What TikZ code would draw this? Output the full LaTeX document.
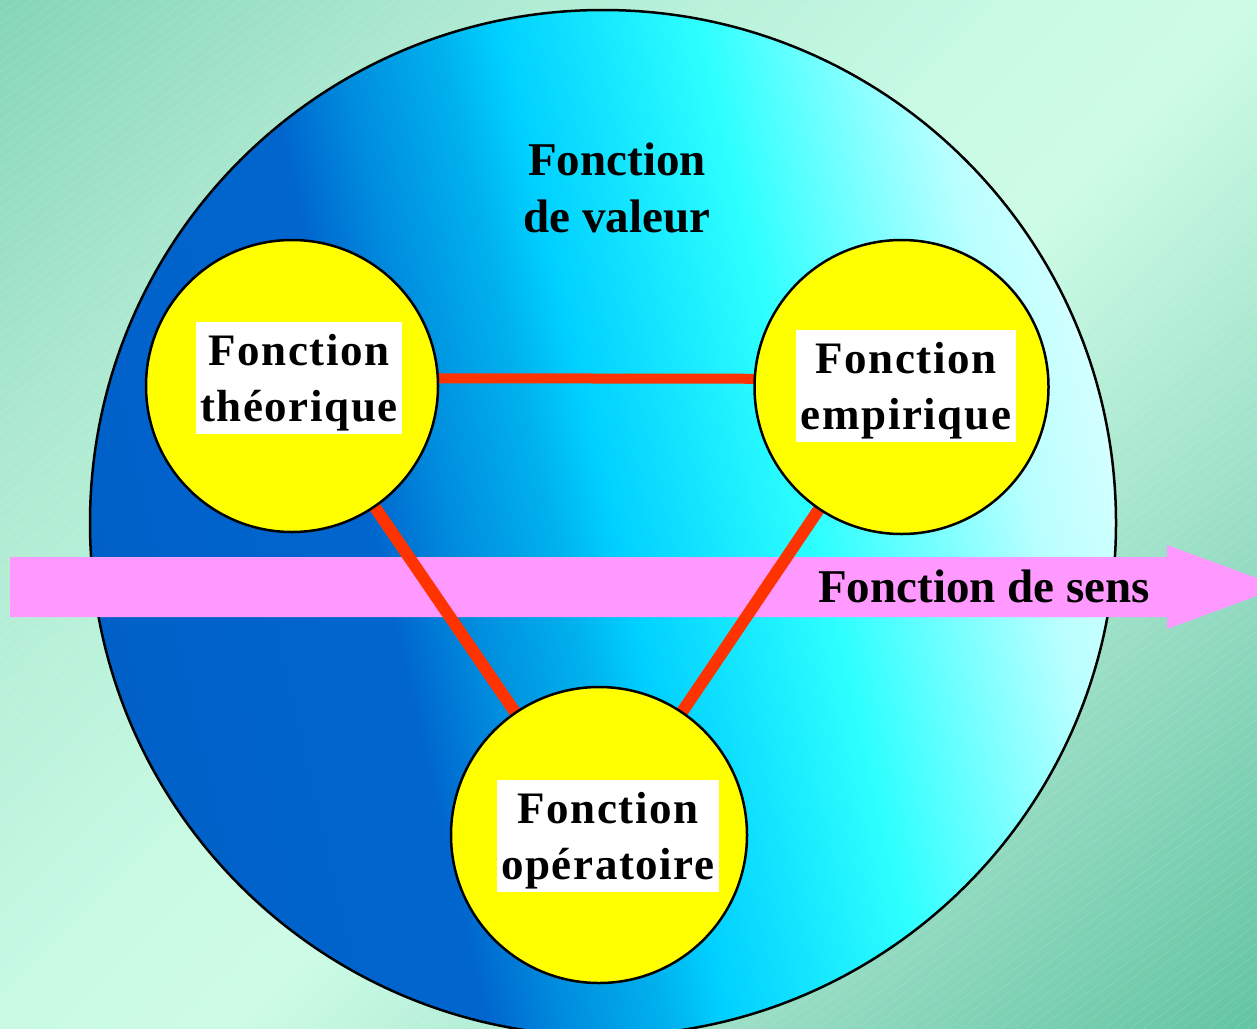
\documentclass[tikz,border=0pt]{standalone}
\usepackage{fontspec}
\setmainfont{Liberation Serif}
\newfontfamily\lblfont[LetterSpace=3.5]{Liberation Serif}
\definecolor{cdark}{RGB}{0,96,200}
\definecolor{cdarkb}{RGB}{0,102,206}
\definecolor{cmida}{RGB}{0,140,222}
\definecolor{cmid}{RGB}{0,178,238}
\definecolor{clight}{RGB}{0,208,255}
\definecolor{ccyan}{RGB}{45,255,255}
\definecolor{cpale}{RGB}{185,255,255}
\definecolor{cpaleb}{RGB}{212,255,255}
\definecolor{bga}{RGB}{132,213,183}
\definecolor{bgb}{RGB}{172,233,208}
\definecolor{bgc}{RGB}{200,250,228}
\definecolor{bgd}{RGB}{205,252,230}
\definecolor{bge}{RGB}{150,220,195}
\definecolor{bgf}{RGB}{98,196,162}
\definecolor{arrowpink}{RGB}{255,153,255}
\definecolor{linered}{RGB}{255,51,0}
\definecolor{ballyellow}{RGB}{255,255,0}
\pgfdeclarehorizontalshading{bigsh}{100bp}{color(0bp)=(cdark); color(25bp)=(cdark); color(39bp)=(cdarkb); color(42.7bp)=(cmida); color(47.6bp)=(cmid); color(50.4bp)=(clight); color(60bp)=(ccyan); color(70.5bp)=(cpale); color(75bp)=(cpaleb); color(100bp)=(cpaleb)}
\pgfdeclarehorizontalshading{bgsh}{100bp}{color(0bp)=(bga); color(25bp)=(bga); color(34.9bp)=(bgb); color(47.5bp)=(bgc); color(52.5bp)=(bgd); color(64.3bp)=(bge); color(75bp)=(bgf); color(100bp)=(bgf)}
\pgfdeclarelayer{bg}
\pgfdeclarelayer{lines}
\pgfsetlayers{bg,lines,main}
\tikzset{
  yc/.style={circle, draw=black, line width=2.5, fill=ballyellow, inner sep=0},
  lbl/.style={rectangle, fill=white, inner sep=0, minimum height=112, align=center,
    font={\lblfont\bfseries\fontsize{45}{56}\selectfont}},
  titletext/.style={inner sep=0, font={\bfseries\fontsize{47}{57}\selectfont}},
  redline/.style={draw=linered, line width=10},
  redlinediag/.style={draw=linered, line width=12},
  hatch/.style={draw=white, line width=0.5, opacity=0.16},
  bigcircle/.style={circle, draw=black, line width=2.5, inner sep=0, minimum size=1026},
}
\begin{document}
\begin{tikzpicture}[x=1pt,y=-1pt]
\useasboundingbox (0,0) rectangle (1257,1028);
\clip (0,0) rectangle (1257,1028);
% circles
\node[yc, minimum size=292] (T) at (292,386) {};
\node[yc, minimum size=294] (E) at (901.5,387) {};
\node[yc, minimum size=296] (O) at (599,835) {};
\node[lbl, minimum width=206] (Tl) at (299,378) {\rule{0pt}{40pt}Fonction\\théorique};
\node[lbl, minimum width=220] (El) at (906,386) {\rule{0pt}{40pt}Fonction\\empirique};
\node[lbl, minimum width=222] (Ol) at (608,836) {\rule{0pt}{40pt}Fonction\\opératoire};
% title texts
\node[titletext, anchor=base] (v1) at (617,175) {Fonction};
\node[titletext, anchor=base] (v2) at (617,232) {de valeur};
\node[titletext, anchor=base] (s) at (984,602) {Fonction de sens};
% red lines
\begin{pgfonlayer}{lines}
\draw[redline] ([yshift=8pt]T.center) -- ([yshift=8pt]E.center);
\draw[redlinediag] (T.center) -- (O.center);
\draw[redlinediag] (E.center) -- (O.center);
\end{pgfonlayer}
% background
\begin{pgfonlayer}{bg}
\shade[shading=bgsh, transform canvas={rotate around={-45:(628.5,514)}}] (-183.5,-298) rectangle (1440.5,1326);
\foreach \k in {-108,...,98} \draw[hatch] (\k*13,1028) -- ++(1371,-1028);
\shade[shading=bigsh, transform canvas={rotate around={13:(603,523)}}] (603,523) circle (513);
\node[bigcircle] (big) at (603,523) {};
\fill[arrowpink] (10,557) -- (1167,557) -- (1167,545) -- (1281,587) -- (1167,629) -- (1167,617) -- (10,617) -- cycle;
\end{pgfonlayer}
\end{tikzpicture}
\end{document}
